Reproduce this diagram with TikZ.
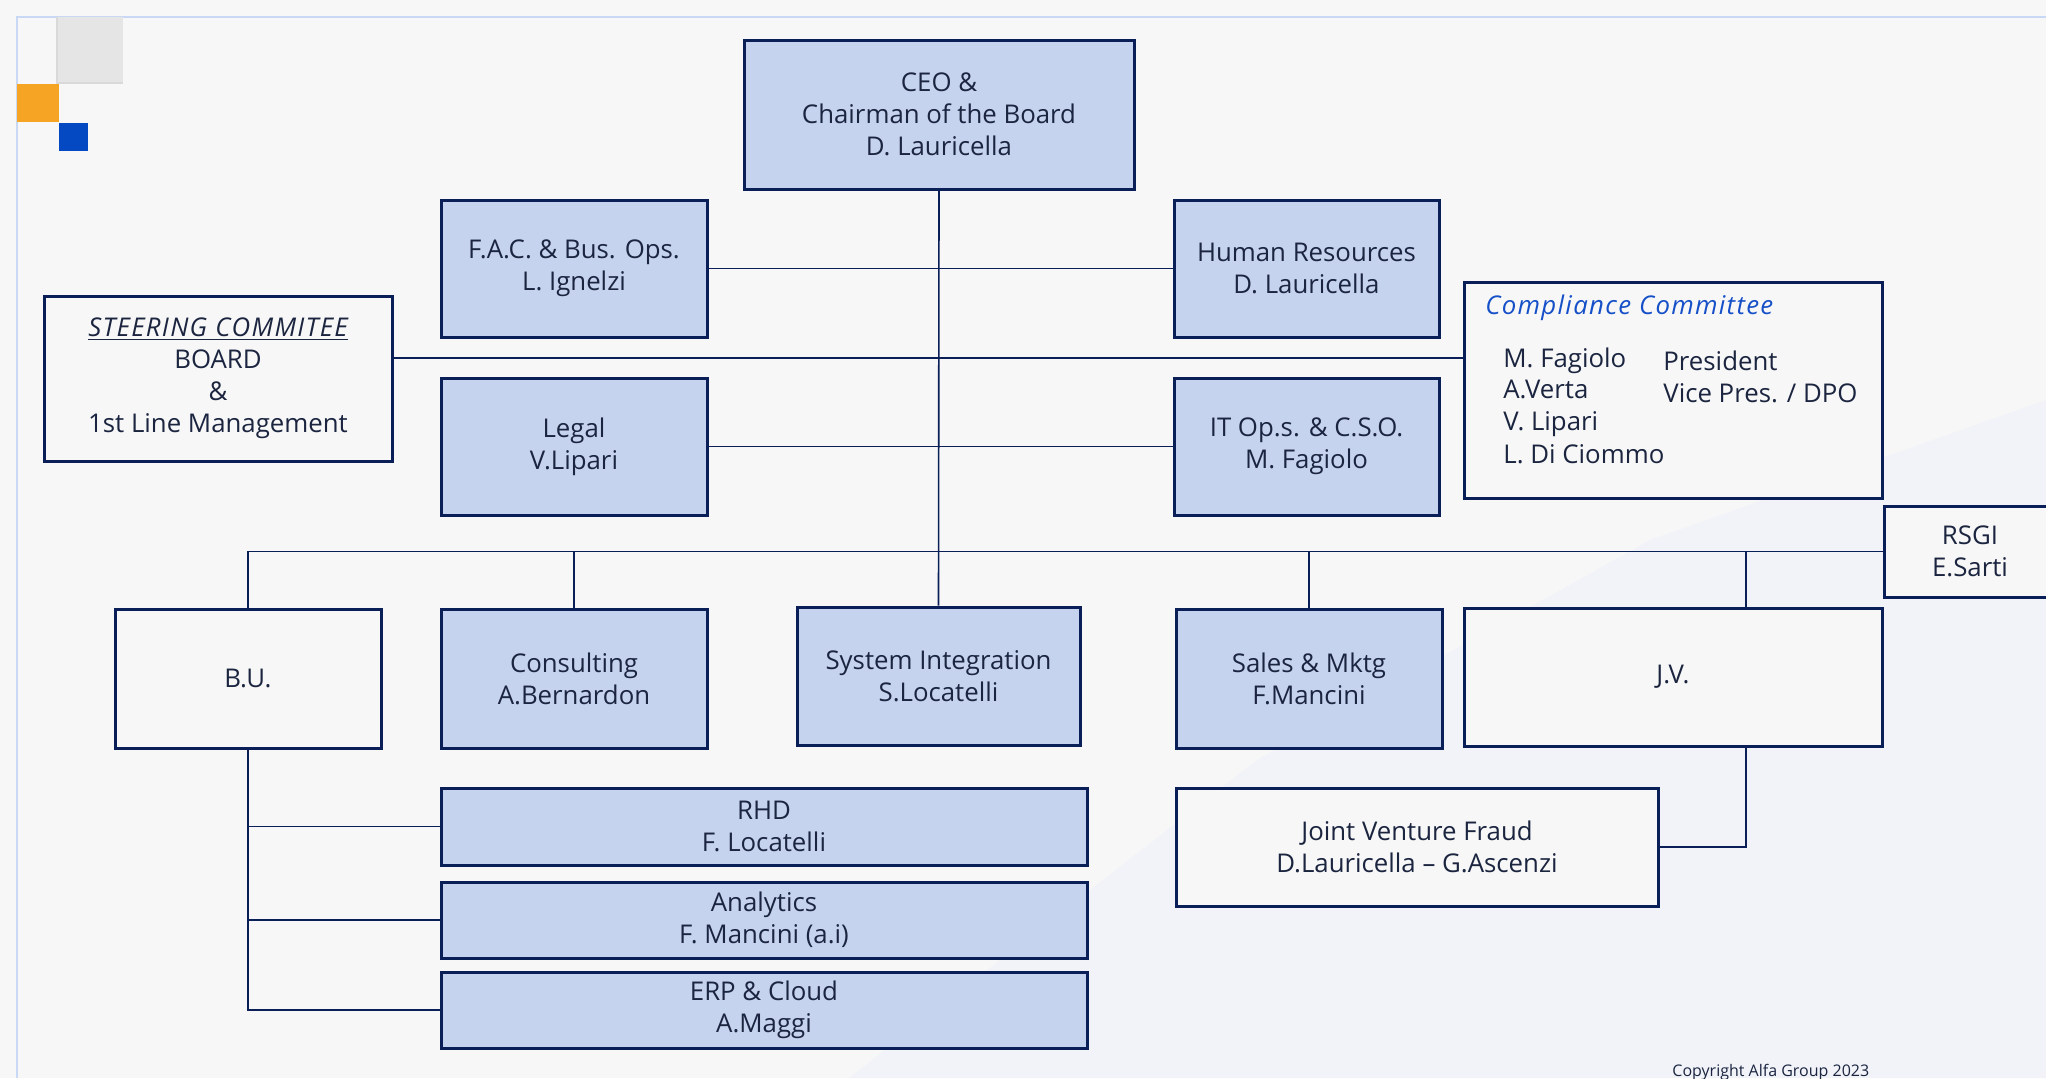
\documentclass[tikz,border=0pt]{standalone}
\usepackage{fontspec}
\setmainfont{Open Sans}
\usetikzlibrary{calc}
\definecolor{bg}{RGB}{247,247,247}
\definecolor{bgblue}{RGB}{241,243,249}
\definecolor{navy}{RGB}{10,30,88}
\definecolor{ink}{RGB}{27,37,64}
\definecolor{boxblue}{RGB}{197,211,238}
\definecolor{frameblue}{RGB}{200,216,245}
\definecolor{compblue}{RGB}{22,80,200}
\definecolor{orangesq}{RGB}{245,165,35}
\definecolor{bluesq}{RGB}{4,72,194}
\definecolor{greysq}{RGB}{229,229,229}
\newcommand{\wideit}{\itshape\addfontfeature{LetterSpace=5}}
\begin{document}
\begin{tikzpicture}[x=0.5pt,y=-0.5pt,
  every node/.style={font=\fontsize{12.9}{16}\selectfont, text=ink},
  sz/.style 2 args={minimum width=#1*0.5pt, minimum height=#2*0.5pt},
  orgbox/.style={draw=navy, line width=1.5pt, align=center, inner sep=0pt},
  bluebox/.style={orgbox, fill=boxblue},
  whitebox/.style={orgbox, fill=bg},
  txt/.style={anchor=base west, inner sep=0pt},
  conn/.style={draw=navy, line width=0.8pt}
]
\useasboundingbox (0,0) rectangle (2046,1078);
\fill[bg] (0,0) rectangle (2046,1078);
\fill[bgblue] (849,1078) -- (1257,760) -- (1650,540) -- (2046,400) -- (2046,1078) -- cycle;
\draw[frameblue, line width=1.2pt] (17,1078) -- (17,17) -- (2046,17);
\fill[greysq] (57,17) rectangle (123,83);
\draw[black!15, line width=0.6pt] (57,17) -- (57,83) -- (123,83);
\fill[orangesq] (17,84) rectangle (59,122);
\fill[bluesq] (59,123) rectangle (88,151);

% nodes
\node[bluebox, sz={390}{149}] (ceo) at (939,114.5) {CEO \&\\Chairman of the Board\\D. Lauricella};
\node[bluebox, sz={266}{137}] (fac) at (574,268.5) {F.A.C. \& Bus. Ops.\\L. Ignelzi};
\node[bluebox, sz={265}{137}] (hr) at (1306.5,268.5) {Human Resources\\D. Lauricella};
\node[whitebox, sz={348}{165}] (steer) at (218,378.5) {{\wideit\underline{STEERING COMMITEE}}\\BOARD\\\&\\1st Line Management};
\node[whitebox, sz={418}{216}] (comp) at (1673,390) {};
\node[txt, text=compblue, font=\fontsize{12.9}{16}\selectfont\wideit] (comptitle) at (1485,314) {Compliance Committee};
\node[txt] (c1) at (1503,367) {M. Fagiolo};
\node[txt] (c2) at (1503,398) {A.Verta};
\node[txt] (c3) at (1503,430) {V. Lipari};
\node[txt] (c4) at (1503,463) {L. Di Ciommo};
\node[txt] (r1) at (1663,370) {President};
\node[txt] (r2) at (1663,402) {Vice Pres. / DPO};
\node[bluebox, sz={266}{137}] (legal) at (574,446.5) {Legal\\V.Lipari};
\node[bluebox, sz={265}{137}] (it) at (1306.5,446.5) {IT Op.s. \& C.S.O.\\M. Fagiolo};
\node[whitebox, sz={172}{91}] (rsgi) at (1970,551.5) {RSGI\\E.Sarti};
\node[whitebox, sz={266}{139}] (bu) at (248,678.5) {B.U.};
\node[bluebox, sz={266}{139}] (cons) at (574,678.5) {Consulting\\A.Bernardon};
\node[bluebox, sz={283}{138}] (sys) at (938.5,676) {System Integration\\S.Locatelli};
\node[bluebox, sz={266}{139}] (sales) at (1309,678.5) {Sales \& Mktg\\F.Mancini};
\node[whitebox, sz={418}{138}] (jv) at (1673,677) {J.V.};
\node[bluebox, sz={646}{77}] (rhd) at (764,826.5) {RHD\\F. Locatelli};
\node[bluebox, sz={646}{76}] (ana) at (764,920) {Analytics\\F. Mancini (a.i)};
\node[bluebox, sz={646}{76}] (erp) at (764,1010) {ERP \& Cloud\\A.Maggi};
\node[whitebox, sz={482}{118}] (jvf) at (1417,847) {Joint Venture Fraud\\D.Lauricella -- G.Ascenzi};
\node[txt, font=\fontsize{8}{9}\selectfont] (copy) at (1672,1076) {Copyright Alfa Group 2023};

% connectors
\coordinate (sc) at (939,358);
\coordinate (bus) at (939,552);
\coordinate (jvx) at (1746,552);
\draw[conn] (ceo.south) -- (sys.north);
\draw[conn] (fac.east) -- (hr.west);
\draw[conn] (legal.east) -- (it.west);
\draw[conn] (sc -| steer.east) -- (sc -| comp.west);
\draw[conn] (bu.north) |- (rsgi.west);
\draw[conn] (cons.north) -- (cons.north |- bus);
\draw[conn] (sales.north) -- (sales.north |- bus);
\draw[conn] (jvx) -- (jvx |- jv.north);
\draw[conn] (jvx |- jv.south) |- (jvf.east);
\draw[conn] (bu.south) |- (erp.west);
\draw[conn] (bu.south |- rhd.west) -- (rhd.west);
\draw[conn] (bu.south |- ana.west) -- (ana.west);
\end{tikzpicture}
\end{document}
